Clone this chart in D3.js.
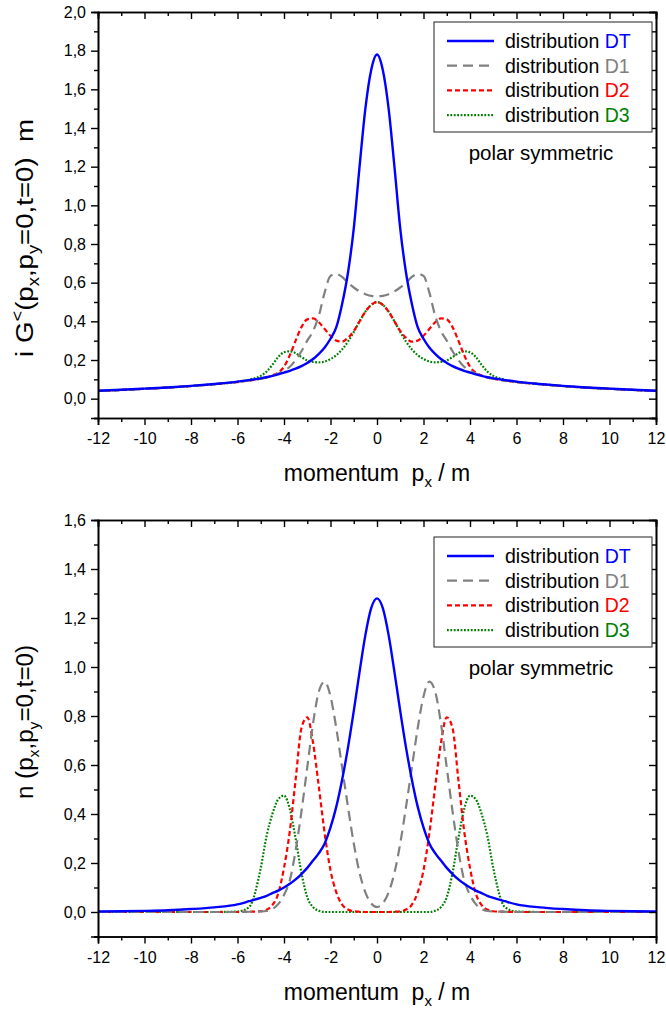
<!DOCTYPE html>
<html>
<head>
<meta charset="utf-8">
<script src="https://cdn.jsdelivr.net/npm/d3@7"></script>
<style>
body { margin: 0; background: #fff; }
text { font-family: "Liberation Sans", Arial, sans-serif; fill: #000; }
</style>
</head>
<body>
<div id="chart"></div>
<script>
// momentum grid p_x / m
var px = [-12,-11,-10,-9,-8,-7,-6,-5.5,-5,-4.75,-4.5,-4.25,-4,-3.75,-3.5,-3.25,-3,-2.75,-2.5,-2.25,-2,-1.75,-1.5,-1.25,-1,-0.75,-0.5,-0.25,
	0,
	0.25,0.5,0.75,1,1.25,1.5,1.75,2,2.25,2.5,2.75,3,3.25,3.5,3.75,4,4.25,4.5,4.75,5,5.5,6,7,8,9,10,11,12];

// upper panel: i G<(px,py=0,t=0) m
var gDT = [0.041,0.046,0.052,0.058,0.066,0.076,0.088,0.096,0.105,0.111,0.118,0.126,0.135,0.144,0.155,0.168,0.185,0.205,0.232,0.265,0.31,0.37,0.49,0.65,0.88,1.20,1.50,1.70,
	1.78,
	1.70,1.50,1.20,0.88,0.65,0.49,0.37,0.31,0.265,0.232,0.205,0.185,0.168,0.155,0.144,0.135,0.126,0.118,0.111,0.105,0.096,0.088,0.076,0.066,0.058,0.052,0.046,0.041];
var gD1 = [0.040,0.045,0.051,0.057,0.065,0.075,0.086,0.094,0.103,0.11,0.119,0.13,0.145,0.165,0.20,0.245,0.30,0.35,0.43,0.55,0.635,0.645,0.63,0.60,0.575,0.555,0.54,0.532,
	0.53,
	0.532,0.54,0.555,0.575,0.60,0.63,0.645,0.635,0.55,0.43,0.35,0.30,0.245,0.20,0.165,0.145,0.13,0.119,0.11,0.103,0.094,0.086,0.075,0.065,0.057,0.051,0.045,0.040];
var gD2 = [0.040,0.045,0.051,0.057,0.065,0.075,0.086,0.094,0.103,0.11,0.12,0.135,0.165,0.225,0.30,0.37,0.41,0.415,0.395,0.36,0.325,0.30,0.295,0.315,0.35,0.40,0.45,0.485,
	0.50,
	0.485,0.45,0.40,0.35,0.315,0.295,0.30,0.325,0.36,0.395,0.415,0.41,0.37,0.30,0.225,0.165,0.135,0.12,0.11,0.103,0.094,0.086,0.075,0.065,0.057,0.051,0.045,0.040];
var gD3 = [0.040,0.045,0.051,0.057,0.065,0.075,0.087,0.098,0.118,0.14,0.175,0.215,0.24,0.245,0.235,0.215,0.198,0.19,0.188,0.192,0.205,0.225,0.255,0.295,0.345,0.40,0.45,0.485,
	0.50,
	0.485,0.45,0.40,0.345,0.295,0.255,0.225,0.205,0.192,0.188,0.19,0.198,0.215,0.235,0.245,0.24,0.215,0.175,0.14,0.118,0.098,0.087,0.075,0.065,0.057,0.051,0.045,0.040];

// lower panel: n(px,py=0,t=0)
var nDT = [0.002,0.003,0.0045,0.007,0.012,0.019,0.031,0.044,0.058,0.066,0.077,0.087,0.1,0.115,0.133,0.155,0.18,0.21,0.24,0.28,0.345,0.43,0.54,0.67,0.82,0.98,1.13,1.24,
	1.28,
	1.24,1.13,0.98,0.82,0.67,0.54,0.43,0.345,0.28,0.24,0.21,0.18,0.155,0.133,0.115,0.1,0.087,0.077,0.066,0.058,0.044,0.031,0.019,0.012,0.007,0.0045,0.003,0.002];
var nD1 = [0,0,0,0,0,0,0,0.001,0.002,0.004,0.012,0.032,0.07,0.13,0.25,0.41,0.59,0.77,0.90,0.94,0.88,0.75,0.59,0.43,0.28,0.16,0.08,0.035,
	0.02,
	0.035,0.08,0.16,0.28,0.43,0.59,0.75,0.88,0.94,0.90,0.77,0.59,0.41,0.25,0.13,0.07,0.032,0.012,0.004,0.002,0.001,0,0,0,0,0,0,0];
var nD2 = [0,0,0,0,0,0,0,0.001,0.003,0.009,0.028,0.075,0.18,0.33,0.54,0.75,0.795,0.69,0.51,0.32,0.17,0.08,0.03,0.01,0.003,0.001,0,0,
	0,
	0,0,0.001,0.003,0.01,0.03,0.08,0.17,0.32,0.51,0.69,0.795,0.75,0.54,0.33,0.18,0.075,0.028,0.009,0.003,0.001,0,0,0,0,0,0,0];
var nD3 = [0,0,0,0,0,0,0.002,0.02,0.18,0.31,0.40,0.46,0.475,0.42,0.30,0.16,0.06,0.02,0.005,0,0,0,0,0,0,0,0,0,
	0,
	0,0,0,0,0,0,0,0,0,0.005,0.02,0.06,0.16,0.30,0.42,0.475,0.46,0.40,0.31,0.18,0.02,0.002,0,0,0,0,0,0];

var xMajor = [-12,-10,-8,-6,-4,-2,0,2,4,6,8,10,12];
var xMinor = [-11,-9,-7,-5,-3,-1,1,3,5,7,9,11];
var gMajor = [0,0.2,0.4,0.6,0.8,1.0,1.2,1.4,1.6,1.8,2.0];
var gMinor = [-0.1,0.1,0.3,0.5,0.7,0.9,1.1,1.3,1.5,1.7,1.9];
var nMajor = [0,0.2,0.4,0.6,0.8,1.0,1.2,1.4,1.6];
var nMinor = [-0.1,0.1,0.3,0.5,0.7,0.9,1.1,1.3,1.5];

var seriesNames = ['DT','D1','D2','D3'];
var seriesColors = ['#0000ff','#808080','#ff0000','#008000'];
var seriesDash = [null,'10,6','5,3','1.8,1.6'];
var seriesWidth = [2.4,2.2,2.2,2.2];

var svg = d3.select('#chart').append('svg')
	.attr('width', 666)
	.attr('height', 1012);

var left = 98, right = 656;
var x = d3.scaleLinear().domain([-12, 12]).range([left, right]);
var fmtY = function(d) { return d3.format('.1f')(d).replace('.', ','); };
var fmtX = function(d) { return String(d); };

function drawPanel(p) {
	var g = svg.append('g');
	var y = d3.scaleLinear().domain([-0.1, p.yMax]).range([p.bottom, p.top]);

	g.append('clipPath').attr('id', p.id)
		.append('rect')
		.attr('x', left).attr('y', p.top)
		.attr('width', right - left).attr('height', p.bottom - p.top);

	var line = d3.line()
		.x(function(d, i) { return x(px[i]); })
		.y(function(d) { return y(d); })
		.curve(d3.curveMonotoneX);

	var curves = g.append('g').attr('clip-path', 'url(#' + p.id + ')');
	for (var k = p.series.length - 1; k >= 0; k--) {
		curves.append('path')
			.attr('d', line(p.series[k]))
			.attr('fill', 'none')
			.attr('stroke', seriesColors[k])
			.attr('stroke-width', seriesWidth[k])
			.attr('stroke-dasharray', seriesDash[k]);
	}

	// axes: bottom/left outward, top/right inward
	var axB = g.append('g').attr('transform', 'translate(0,' + p.bottom + ')');
	axB.call(d3.axisBottom(x).tickValues(xMajor).tickSize(7).tickPadding(8).tickFormat(fmtX));
	axB.append('g').call(d3.axisBottom(x).tickValues(xMinor).tickSize(4).tickFormat(''));

	var axT = g.append('g').attr('transform', 'translate(0,' + p.top + ')');
	axT.call(d3.axisTop(x).tickValues(xMajor).tickSize(-7).tickFormat(''));
	axT.append('g').call(d3.axisTop(x).tickValues(xMinor).tickSize(-4).tickFormat(''));

	var axL = g.append('g').attr('transform', 'translate(' + left + ',0)');
	axL.call(d3.axisLeft(y).tickValues(p.major).tickSize(7).tickPadding(5).tickFormat(fmtY));
	axL.append('g').call(d3.axisLeft(y).tickValues(p.minor).tickSize(4).tickFormat(''));

	var axR = g.append('g').attr('transform', 'translate(' + right + ',0)');
	axR.call(d3.axisRight(y).tickValues(p.major).tickSize(-7).tickFormat(''));
	axR.append('g').call(d3.axisRight(y).tickValues(p.minor).tickSize(-4).tickFormat(''));

	g.selectAll('.domain').attr('stroke', '#000').attr('stroke-width', 1.6);
	g.selectAll('.tick line').attr('stroke', '#000').attr('stroke-width', 1.4);
	g.selectAll('.tick text').style('font-size', '16px')
		.style('font-family', '"Liberation Sans", Arial, sans-serif');

	// x title
	var xt = g.append('text')
		.attr('x', (left + right) / 2)
		.attr('y', p.bottom + 63)
		.attr('text-anchor', 'middle')
		.style('font-size', '23px');
	xt.append('tspan').text('momentum\u00a0\u00a0p');
	xt.append('tspan').attr('dy', 6).style('font-size', '15px').text('x');
	xt.append('tspan').attr('dy', -6).text(' / m');

	// y title
	var yt = g.append('text')
		.attr('transform', 'translate(' + 33 + ',' + p.yTitleY + ') rotate(-90) scale(' + p.yTitleStretch + ',1)')
		.attr('text-anchor', 'middle')
		.style('font-size', p.yTitleSize + 'px');
	p.yTitle(yt);

	// legend
	var lg = g.append('g');
	lg.append('rect')
		.attr('x', 434).attr('y', p.legTop)
		.attr('width', 218).attr('height', 110)
		.attr('fill', '#fff')
		.attr('stroke', '#222')
		.attr('stroke-width', 1);
	seriesNames.forEach(function(name, k) {
		var ry = p.legTop + 19 + k * 24.7;
		lg.append('line')
			.attr('x1', 447).attr('x2', 494)
			.attr('y1', ry).attr('y2', ry)
			.attr('stroke', seriesColors[k])
			.attr('stroke-width', seriesWidth[k])
			.attr('stroke-dasharray', seriesDash[k]);
		var t = lg.append('text')
			.attr('x', 505).attr('y', ry + 7)
			.style('font-size', '19.5px');
		t.append('tspan').text('distribution ');
		t.append('tspan').style('fill', seriesColors[k]).text(name);
	});
	lg.append('text')
		.attr('x', 541).attr('y', p.legTop + 138)
		.attr('text-anchor', 'middle')
		.style('font-size', '20.5px')
		.text('polar symmetric');
}

drawPanel({
	id: 'clipTop', top: 12, bottom: 418, yMax: 2.0,
	major: gMajor, minor: gMinor,
	series: [gDT, gD1, gD2, gD3],
	legTop: 22, yTitleY: 238, yTitleSize: 24, yTitleStretch: 1.15,
	yTitle: function(t) {
		t.append('tspan').text('i G');
		t.append('tspan').attr('dy', -10).style('font-size', '16px').text('<');
		t.append('tspan').attr('dy', 10).text('(p');
		t.append('tspan').attr('dy', 6).style('font-size', '16px').text('x');
		t.append('tspan').attr('dy', -6).text(',p');
		t.append('tspan').attr('dy', 6).style('font-size', '16px').text('y');
		t.append('tspan').attr('dy', -6).text('=0,t=0)\u00a0\u00a0m');
	}
});

drawPanel({
	id: 'clipBot', top: 520, bottom: 936.5, yMax: 1.6,
	major: nMajor, minor: nMinor,
	series: [nDT, nD1, nD2, nD3],
	legTop: 537, yTitleY: 722, yTitleSize: 23, yTitleStretch: 1.05,
	yTitle: function(t) {
		t.append('tspan').text('n (p');
		t.append('tspan').attr('dy', 6).style('font-size', '15px').text('x');
		t.append('tspan').attr('dy', -6).text(',p');
		t.append('tspan').attr('dy', 6).style('font-size', '15px').text('y');
		t.append('tspan').attr('dy', -6).text('=0,t=0)');
	}
});
</script>
</body>
</html>
